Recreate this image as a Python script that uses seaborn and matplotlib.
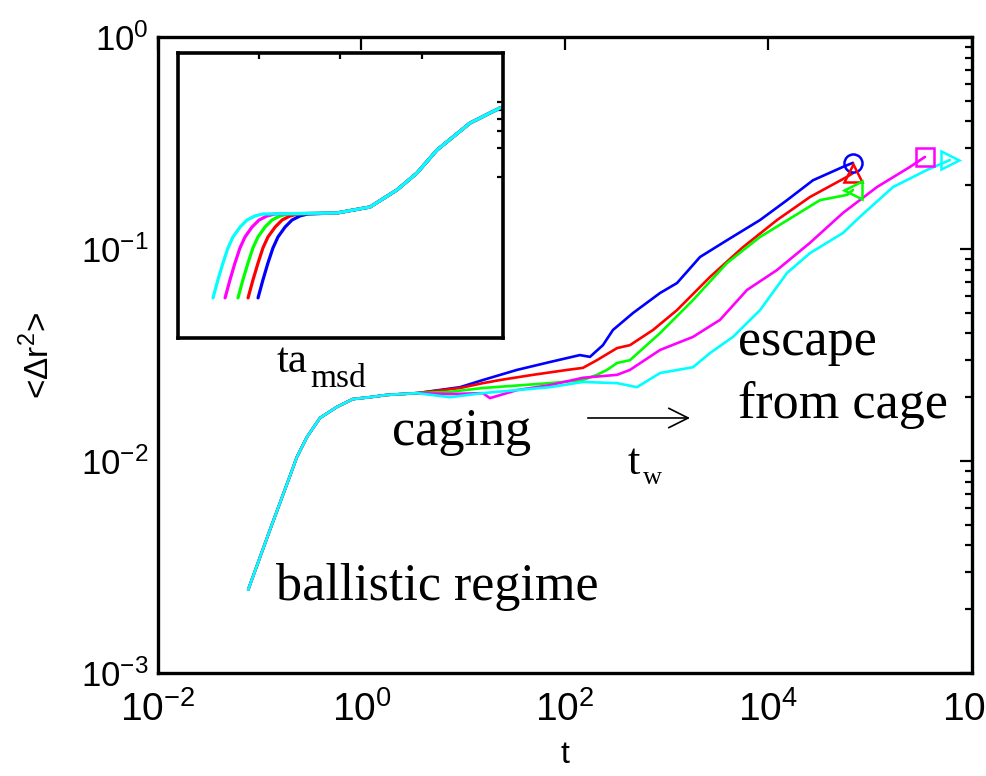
import numpy as np
import pandas as pd
import matplotlib
matplotlib.use("Agg")
import matplotlib.pyplot as plt
import seaborn as sns
from matplotlib.ticker import FixedLocator, NullLocator, NullFormatter, LogLocator, LogFormatterSciNotation

# ---- main panel data ----
# short-time part shared by every waiting time (ballistic + start of cage)
t_common = [0.077, 0.126, 0.198, 0.232, 0.291, 0.391, 0.574, 0.824, 1.21, 1.78, 3.5]
msd_common = [0.00247, 0.00473, 0.00849, 0.01045, 0.01297, 0.01596, 0.0180, 0.0196, 0.0200, 0.0205, 0.0209]

t_blue = [9.3, 15.6, 33.7, 71, 140, 176, 236, 296, 466, 859, 1262, 2124, 3909, 8260, 15210, 27370, 53950, 67600]
msd_blue = [0.0223, 0.0241, 0.0269, 0.0293, 0.0316, 0.0310, 0.0352, 0.0415, 0.0499, 0.0620, 0.0691, 0.0917,
            0.110, 0.137, 0.170, 0.211, 0.244, 0.255]

t_red = [9.3, 15.6, 23, 48.5, 105, 150, 206, 325, 435, 733, 1262, 2660, 5610, 12130, 25590, 59100, 67600]
msd_red = [0.0221, 0.0233, 0.0241, 0.0255, 0.0269, 0.0275, 0.0299, 0.0341, 0.0352, 0.0415, 0.0515, 0.0738,
           0.102, 0.137, 0.176, 0.219, 0.228]

t_green = [7.4, 15.6, 71, 150, 206, 259, 325, 435, 859, 1811, 3909, 8260, 17420, 32060, 59100, 67600]
msd_green = [0.0212, 0.0221, 0.0233, 0.0241, 0.0255, 0.0269, 0.0290, 0.0299, 0.0401, 0.0574, 0.0859, 0.114,
             0.142, 0.170, 0.180, 0.190]

t_magenta = [7.4, 15.6, 18.3, 33.7, 71, 150, 325, 435, 859, 1811, 3334, 6150, 12130, 25590, 53950, 116400,
             246000, 345000]
msd_magenta = [0.0207, 0.0209, 0.0198, 0.0216, 0.0228, 0.0247, 0.0255, 0.0269, 0.0334, 0.0385, 0.0463, 0.0641,
               0.0796, 0.107, 0.148, 0.196, 0.244, 0.272]

t_cyan = [7.4, 15.6, 33.7, 71, 150, 325, 510, 859, 1811, 2660, 4480, 8260, 15210, 25590, 53950, 79300, 167500,
          361000, 608000]
msd_cyan = [0.0200, 0.0209, 0.0216, 0.0223, 0.0236, 0.0233, 0.0223, 0.0260, 0.0277, 0.0323, 0.0385, 0.0515,
            0.0771, 0.0957, 0.119, 0.142, 0.196, 0.236, 0.263]

# ---- inset data (rescaled time) ----
inset_msd_rise = [0.0055, 0.00845, 0.0127, 0.0182, 0.0237, 0.0301, 0.0356, 0.0393, 0.0412]
inset_t_blue = [0.0967, 0.111, 0.128, 0.1475, 0.170, 0.208, 0.253, 0.318, 0.397]
inset_t_red = [0.0729, 0.0837, 0.0967, 0.111, 0.128, 0.157, 0.191, 0.239, 0.300]
inset_t_green = [0.0548, 0.0629, 0.0727, 0.0836, 0.0964, 0.1177, 0.1435, 0.180, 0.225]
inset_t_magenta = [0.038, 0.0436, 0.0503, 0.0579, 0.0668, 0.0815, 0.0994, 0.1247, 0.156]
inset_t_cyan = [0.027, 0.031, 0.0358, 0.0412, 0.0475, 0.058, 0.0707, 0.0887, 0.111]
inset_t_tail = [0.905, 2.31, 4.95, 8.73, 15.4, 39.3, 91.8]
inset_msd_tail = [0.0422, 0.0487, 0.0733, 0.110, 0.191, 0.365, 0.524]

curves = ["blue", "red", "green", "magenta", "cyan"]
colors = {"blue": "#0000ff", "red": "#ff0000", "green": "#00ff00", "magenta": "#ff00ff", "cyan": "#00ffff"}
end_markers = {"blue": "o", "red": "^", "green": "<", "magenta": "s", "cyan": ">"}
main_t = {"blue": t_blue, "red": t_red, "green": t_green, "magenta": t_magenta, "cyan": t_cyan}
main_msd = {"blue": msd_blue, "red": msd_red, "green": msd_green, "magenta": msd_magenta, "cyan": msd_cyan}
inset_t = {"blue": inset_t_blue, "red": inset_t_red, "green": inset_t_green,
           "magenta": inset_t_magenta, "cyan": inset_t_cyan}

rows = []
for c in curves:
    for t, m in zip(t_common + main_t[c], msd_common + main_msd[c]):
        rows.append((c, t, m))
df = pd.DataFrame(rows, columns=["curve", "t", "msd"])

rows = []
for c in curves:
    for t, m in zip(inset_t[c] + inset_t_tail, inset_msd_rise + inset_msd_tail):
        rows.append((c, t, m))
df_in = pd.DataFrame(rows, columns=["curve", "t", "msd"])

sns.set_theme(style="white")
plt.rcParams["font.family"] = ["Liberation Sans", "DejaVu Sans"]
plt.rcParams["mathtext.fontset"] = "custom"
plt.rcParams["mathtext.rm"] = "Liberation Sans"
for key in ["text.color", "axes.labelcolor", "xtick.color", "ytick.color", "axes.edgecolor"]:
    plt.rcParams[key] = "black"

fig = plt.figure(figsize=(9.86, 7.76), dpi=100)
ax = fig.add_axes([0.1602, 0.1327, 0.8256, 0.8196])
ax.set_xscale("log")
ax.set_yscale("log")

sns.lineplot(data=df, x="t", y="msd", hue="curve", hue_order=curves, palette=colors,
             sort=False, estimator=None, lw=1.9, legend=False, ax=ax)
for c in curves:
    ax.plot(main_t[c][-1], main_msd[c][-1], marker=end_markers[c], ms=13, mfc="none",
            mec=colors[c], mew=1.8, zorder=5)

ax.set_xlim(1e-2, 1e6)
ax.set_ylim(1e-3, 1e0)
ax.xaxis.set_major_locator(FixedLocator([1e-2, 1e0, 1e2, 1e4, 1e6]))
ax.xaxis.set_major_formatter(LogFormatterSciNotation())
ax.xaxis.set_minor_locator(NullLocator())
ax.yaxis.set_major_locator(LogLocator(base=10))
ax.yaxis.set_minor_locator(LogLocator(base=10, subs=np.arange(2, 10)))
ax.yaxis.set_minor_formatter(NullFormatter())
ax.tick_params(which="both", direction="in", top=True, right=True, color="black", width=1.6)
ax.tick_params(which="major", length=9)
ax.tick_params(which="minor", length=5)
ax.tick_params(axis="y", labelsize=25, pad=7)
ax.tick_params(axis="x", labelsize=28, pad=13)
for s in ax.spines.values():
    s.set_linewidth(2.4)
    s.set_color("black")
ax.set_xlabel("t", fontsize=23, labelpad=8)
ax.set_ylabel(r"<Δr$^{\mathdefault{2}}$>", fontsize=24, labelpad=18)

serif = ["Liberation Serif", "DejaVu Serif"]
ax.text(0.145, 0.1148, "ballistic regime", transform=ax.transAxes, family=serif, fontsize=37.5, va="baseline")
ax.text(0.287, 0.3585, "caging", transform=ax.transAxes, family=serif, fontsize=37.5, va="baseline")
ax.text(0.7125, 0.50, "escape", transform=ax.transAxes, family=serif, fontsize=37.5, va="baseline")
ax.text(0.7125, 0.401, "from cage", transform=ax.transAxes, family=serif, fontsize=37.5, va="baseline")
ax.text(0.146, 0.4733, "ta", transform=ax.transAxes, family=serif, fontsize=31, va="baseline")
ax.text(0.1867, 0.4497, "msd", transform=ax.transAxes, family=serif, fontsize=24, va="baseline")
ax.text(0.5774, 0.3129, "t", transform=ax.transAxes, family=serif, fontsize=32, va="baseline")
ax.text(0.5958, 0.2972, "w", transform=ax.transAxes, family=serif, fontsize=19, va="baseline")
ax.annotate("", xy=(0.6536, 0.401), xytext=(0.528, 0.401), xycoords="axes fraction",
            arrowprops=dict(arrowstyle="->,head_length=0.7,head_width=0.35", lw=1.2, color="black",
                            mutation_scale=20, shrinkA=0, shrinkB=0))

# inset
axi = fig.add_axes([0.1805, 0.5644, 0.3296, 0.3673])
axi.set_xscale("log")
axi.set_yscale("log")
sns.lineplot(data=df_in, x="t", y="msd", hue="curve", hue_order=curves, palette=colors,
             sort=False, estimator=None, lw=2.3, legend=False, ax=axi)
axi.set_xlim(1e-2, 1e2)
axi.set_ylim(0.0021, 1.96)
axi.xaxis.set_major_locator(FixedLocator([1e-1, 1e0, 1e1]))
axi.xaxis.set_minor_locator(NullLocator())
axi.yaxis.set_major_locator(FixedLocator([0.1, 0.2, 0.3, 0.4, 0.5, 0.6]))
axi.yaxis.set_minor_locator(NullLocator())
axi.set_xticklabels([])
axi.set_yticklabels([])
axi.set_xlabel("")
axi.set_ylabel("")
axi.tick_params(which="both", direction="in", top=True, right=True, length=4, width=1.6, color="black")
for s in axi.spines.values():
    s.set_linewidth(2.6)
    s.set_color("black")

fig.savefig("out.png", dpi=100)
